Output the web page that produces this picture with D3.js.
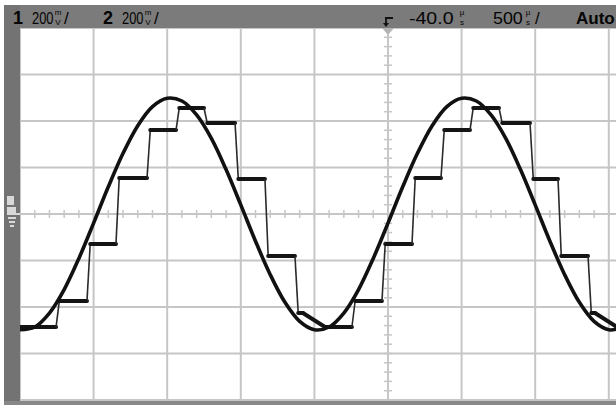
<!DOCTYPE html>
<html>
<head>
<meta charset="utf-8">
<script src="https://cdn.jsdelivr.net/npm/d3@7"></script>
<style>
  html, body { margin: 0; padding: 0; background: #fff; }
  svg { display: block; }
</style>
</head>
<body>
<svg id="scope" width="616" height="405"></svg>
<script>
// sweep: 500 us/div, 200 mV/div, t = 0 at the centre graticule line
var timeTicks = [-2500, -2000, -1500, -1000, -500, 0, 500, 1000, 1500, 2000, 2500];
var voltTicks = [-800, -600, -400, -200, 0, 200, 400, 600, 800];

// channel 1: the analog sine, read every 100 us (mV)
var sineTimes = [-2500, -2400, -2300, -2200, -2100, -2000, -1900, -1800, -1700, -1600,
                 -1500, -1400, -1300, -1200, -1100, -1000, -900, -800, -700, -600,
                 -500, -400, -300, -200, -100, 0, 100, 200, 300, 400,
                 500, 600, 700, 800, 900, 1000, 1100, 1200, 1300, 1400,
                 1500, 1600];
var sineVolts = [-498, -486, -426, -325, -191, -39, 117, 261, 380, 462,
                 498, 486, 426, 325, 191, 39, -117, -261, -380, -462,
                 -498, -486, -426, -325, -191, -39, 117, 261, 380, 462,
                 498, 486, 426, 325, 191, 39, -117, -261, -380, -462,
                 -498, -486];

// channel 2: the sampled (stepped) output, time of each step and the level after it
var stepTimes = [-2500, -2255, -2045, -1848, -1637, -1440, -1250, -1039, -836, -632,
                 -428, -245, -41, 163, 360, 557, 754, 965, 1155, 1359, 1556];
var stepVolts = [-486, -374, -129, 155, 361, 456, 391, 151, -181, -426,
                 -486, -374, -129, 155, 361, 456, 391, 151, -181, -426, -486];

// header labels
var ch1Label = ["1", "200", "mV"];
var ch2Label = ["2", "200", "mV"];
var delayLabel = ["-40.0", "\u00b5s"];
var sweepLabel = ["500", "\u00b5s"];
var modeLabel = "Auto";

var svg = d3.select("#scope");
var W = 616, H = 405;
var plotLeft = 20, plotTop = 28, plotBottom = 401;

var x = d3.scaleLinear().domain([-2500, 2500]).range([20, 756]);
var y = d3.scaleLinear().domain([-800, 800]).range([400, 28]);

// frame: top bar, left strip, bottom edge
svg.append("rect").attr("x", 0).attr("y", 0).attr("width", W).attr("height", H).attr("fill", "#fff");
svg.append("rect").attr("x", 4).attr("y", 5).attr("width", W - 4).attr("height", plotTop - 5).attr("fill", "#7b7b7b");
svg.append("rect").attr("x", 4).attr("y", 5).attr("width", plotLeft - 4).attr("height", H - 5).attr("fill", "#737373");
svg.append("rect").attr("x", 4).attr("y", plotBottom).attr("width", W - 4).attr("height", H - plotBottom).attr("fill", "#888");

svg.append("clipPath").attr("id", "plot-clip")
  .append("rect").attr("x", plotLeft).attr("y", plotTop).attr("width", W - plotLeft).attr("height", plotBottom - plotTop);

var plot = svg.append("g").attr("clip-path", "url(#plot-clip)");

// graticule
var grid = plot.append("g").attr("stroke", "#c6c6c6").attr("stroke-width", 2);
grid.selectAll("line.v").data(timeTicks).enter().append("line").attr("class", "v")
  .attr("x1", function(d) { return x(d); }).attr("x2", function(d) { return x(d); })
  .attr("y1", y(800)).attr("y2", y(-800));
grid.selectAll("line.h").data(voltTicks).enter().append("line").attr("class", "h")
  .attr("x1", x(-2500)).attr("x2", x(2500))
  .attr("y1", function(d) { return y(d); }).attr("y2", function(d) { return y(d); });

// minor ticks on the centre axes (5 per division)
var minorT = d3.range(-2500, 2501, 100);
var minorV = d3.range(-800, 801, 40);
grid.selectAll("line.mt").data(minorT).enter().append("line").attr("class", "mt")
  .attr("x1", function(d) { return x(d); }).attr("x2", function(d) { return x(d); })
  .attr("y1", y(0) - 4).attr("y2", y(0) + 4).attr("stroke-width", 1.5);
grid.selectAll("line.mv").data(minorV).enter().append("line").attr("class", "mv")
  .attr("y1", function(d) { return y(d); }).attr("y2", function(d) { return y(d); })
  .attr("x1", x(0) - 4).attr("x2", x(0) + 4).attr("stroke-width", 1.5);

// stepped trace: fast edges, except the last small step into the bottom which sags
var riseTime = 22, sagTime = 150;
var bottomLevel = d3.min(stepVolts);
var stepPts = [[stepTimes[0], stepVolts[0]]];
stepTimes.forEach(function(t, i) {
  if (i === 0) return;
  if (stepVolts[i] === bottomLevel) {
    stepPts.push([t - sagTime, stepVolts[i - 1]]);
    stepPts.push([t, stepVolts[i]]);
  } else {
    stepPts.push([t, stepVolts[i - 1]]);
    stepPts.push([t + riseTime, stepVolts[i]]);
  }
});
stepPts.push([2600, stepVolts[stepVolts.length - 1]]);

// each piece of the trace: steep edges show thin, flat parts thick
var pieces = d3.pairs(stepPts).map(function(p) {
  var dx = Math.abs(x(p[1][0]) - x(p[0][0])), dy = Math.abs(y(p[1][1]) - y(p[0][1]));
  return { a: p[0], b: p[1], steep: dy > dx * 1.2 };
});
plot.selectAll("line.step").data(pieces).enter().append("line").attr("class", "step")
  .attr("x1", function(d) { return x(d.a[0]); }).attr("y1", function(d) { return y(d.a[1]); })
  .attr("x2", function(d) { return x(d.b[0]); }).attr("y2", function(d) { return y(d.b[1]); })
  .attr("stroke", function(d) { return d.steep ? "#2a2a2a" : "#141414"; })
  .attr("stroke-width", function(d) { return d.steep ? 1.6 : 4; })
  .attr("stroke-linecap", function(d) { return d.steep ? "butt" : "round"; });

// sine trace
var line = d3.line().x(function(d) { return x(d[0]); }).y(function(d) { return y(d[1]); })
  .curve(d3.curveCatmullRom);
var sinePts = sineTimes.map(function(t, i) { return [t, sineVolts[i]]; });
plot.append("path").datum(sinePts).attr("d", line)
  .attr("fill", "none").attr("stroke", "#111").attr("stroke-width", 3.6)
  .attr("stroke-linejoin", "round");

// header text: squeeze or stretch the numbers to the scope font's widths
var hdr = svg.append("g").attr("font-family", "'Liberation Sans', Arial, sans-serif").attr("fill", "#050505");

function drawNarrow(g, xPos, txt, squeeze) {
  return g.append("text").attr("transform", "translate(" + xPos + ",24) scale(" + squeeze + ",1)")
    .attr("font-size", 17).text(txt);
}

function drawStackedUnit(g, xPos, unit) {
  g.append("text").attr("x", xPos).attr("y", 15).attr("font-size", 8).attr("text-anchor", "middle").text(unit[0]);
  g.append("text").attr("x", xPos).attr("y", 25).attr("font-size", 8).attr("text-anchor", "middle").text(unit.slice(1));
}

function drawChannel(g, xPos, label) {
  g.append("text").attr("x", xPos).attr("y", 24).attr("font-size", 18).attr("font-weight", "bold").text(label[0]);
  drawNarrow(g, xPos + 19, label[1], 0.76);
  drawStackedUnit(g, xPos + 45, label[2]);
  g.append("text").attr("x", xPos + 51).attr("y", 24).attr("font-size", 17).text("/");
}

drawChannel(hdr, 13, ch1Label);
drawChannel(hdr, 103, ch2Label);

drawNarrow(hdr, 409, delayLabel[0], 1.15);
drawStackedUnit(hdr, 462, delayLabel[1]);

drawNarrow(hdr, 493, sweepLabel[0], 1.05);
drawStackedUnit(hdr, 528, sweepLabel[1]);
hdr.append("text").attr("x", 535).attr("y", 24).attr("font-size", 17).text("/");

hdr.append("text").attr("x", 576).attr("y", 24).attr("font-size", 17).attr("font-weight", "bold").text(modeLabel);

// trigger symbol and marker
svg.append("path").attr("d", "M385,18 H393 M386,18 V26")
  .attr("stroke", "#111").attr("stroke-width", 1.8).attr("fill", "none");
svg.append("path").attr("d", "M383,23 L386,27 L389,23 Z").attr("fill", "#111");
svg.append("path").attr("d", "M" + (x(0) - 6) + "," + plotTop + " L" + (x(0) + 6) + "," + plotTop + " L" + x(0) + "," + (plotTop + 7) + " Z")
  .attr("fill", "#b4b4b4");

// ground marker on the left strip
var gnd = svg.append("g").attr("fill", "#d8d8d8").attr("stroke", "none");
gnd.append("rect").attr("x", 7).attr("y", 196).attr("width", 7).attr("height", 9);
gnd.append("rect").attr("x", 7).attr("y", 207).attr("width", 9).attr("height", 8);
gnd.append("rect").attr("x", 8).attr("y", 217).attr("width", 8).attr("height", 2);
gnd.append("rect").attr("x", 9).attr("y", 221).attr("width", 6).attr("height", 2);
gnd.append("rect").attr("x", 10).attr("y", 225).attr("width", 4).attr("height", 2);
svg.append("line").attr("x1", 16).attr("x2", plotLeft).attr("y1", y(0)).attr("y2", y(0))
  .attr("stroke", "#d8d8d8").attr("stroke-width", 2);
</script>
</body>
</html>
